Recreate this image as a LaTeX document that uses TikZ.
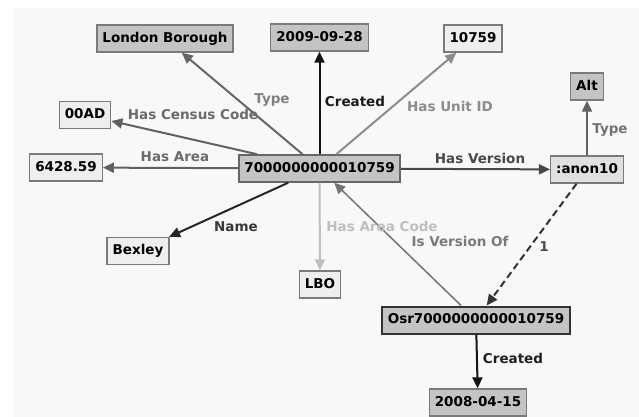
\documentclass[tikz,border=0pt]{standalone}
\usepackage{fontspec}
\setmainfont{DejaVu Sans}
\usetikzlibrary{arrows.meta}
\definecolor{bgc}{HTML}{F8F8F8}
\definecolor{darkfill}{HTML}{C4C4C4}
\definecolor{lightfill}{HTML}{EEEEEE}
\definecolor{midfill}{HTML}{E0E0E0}
\definecolor{boxline}{HTML}{7A7A7A}
\tikzset{
  nd/.style={draw=boxline, line width=1.3pt, inner xsep=5.5pt, inner ysep=2pt,
    minimum height=27pt, text height=10pt, text depth=2.6pt,
    font=\fontsize{13.5}{15}\selectfont\bfseries, text=black},
  darknd/.style={nd, fill=darkfill},
  lightnd/.style={nd, fill=lightfill},
  edge/.style={line width=2pt, -{Triangle[length=11pt,width=10pt]}},
  lab/.style={font=\fontsize{13.5}{15}\selectfont\bfseries, inner sep=0pt}
}
\begin{document}
\begin{tikzpicture}[x=1pt,y=-1pt]
\useasboundingbox (0,0) rectangle (639,417);
\fill[bgc] (13,8) rectangle (639,417);
% nodes
\node[darknd] (lb) at (165,38.5) {London Borough};
\node[darknd] (d1) at (319.5,37.5) {2009-09-28};
\node[lightnd] (uid) at (473,38.5) {10759};
\node[darknd] (alt) at (587,86.5) {Alt};
\node[lightnd] (cc) at (85,115) {00AD};
\node[lightnd] (area) at (66,167.5) {6428.59};
\node[darknd, draw=black!60, line width=1.5pt] (main) at (319.5,168.5) {7000000000010759};
\node[nd, fill=midfill] (anon) at (587,169.5) {:anon10};
\node[lightnd] (bex) at (138,251) {Bexley};
\node[lightnd] (lbo) at (320,284.5) {LBO};
\node[darknd, draw=black!80, line width=2pt] (osr) at (476,320) {Osr7000000000010759};
\node[darknd] (d2) at (478,402.5) {2008-04-15};
% edges
\draw[edge, draw=black!60] (main) -- (lb);
\draw[edge, draw=black!92] (main) -- (d1);
\draw[edge, draw=black!45] (main) -- (uid);
\draw[edge, draw=black!62] (main) -- (cc);
\draw[edge, draw=black!62] (main) -- (area);
\draw[edge, draw=black!85] (main) -- (bex);
\draw[edge, draw=black!25] (main) -- (lbo);
\draw[edge, draw=black!72] (main) -- (anon);
\draw[edge, draw=black!62] (anon) -- (alt);
\draw[edge, line width=1.5pt, draw=black!55] (osr) -- (main);
\draw[edge, draw=black!80, dash pattern=on 7pt off 4pt] (anon) -- (osr);
\draw[edge, draw=black!92] (osr) -- (d2);
% labels
\node[lab, text=black!50] (l1) at (272,100) {Type};
\node[lab, text=black!90] (l2) at (355,101.5) {Created};
\node[lab, text=black!45] (l3) at (450,106.5) {Has Unit ID};
\node[lab, text=black!58] (l4) at (193,114) {Has Census Code};
\node[lab, text=black!58] (l5) at (175,157) {Has Area};
\node[lab, text=black!72] (l6) at (480,158.5) {Has Version};
\node[lab, text=black!55] (l7) at (610,130.5) {Type};
\node[lab, text=black!78] (l8) at (236,226.5) {Name};
\node[lab, text=black!25] (l9) at (382,226.5) {Has Area Code};
\node[lab, text=black!52] (l10) at (460,241) {Is Version Of};
\node[lab, text=black!70] (l11) at (544,246.5) {1};
\node[lab, text=black!88] (l12) at (513,358.5) {Created};
\end{tikzpicture}
\end{document}
